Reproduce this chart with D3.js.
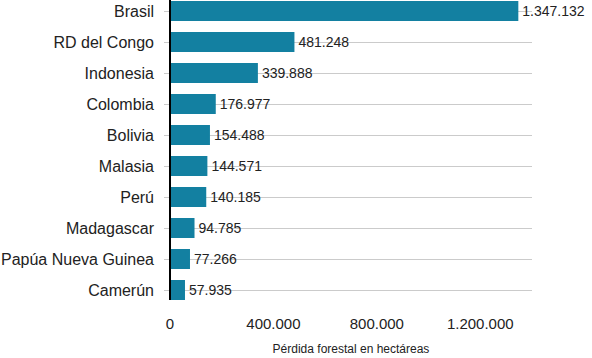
<!DOCTYPE html>
<html><head><meta charset="utf-8">
<script src="https://cdn.jsdelivr.net/npm/d3@7"></script>
<style>body{margin:0;background:#fff}svg{display:block}text{font-family:"Liberation Sans",Arial,sans-serif;fill:#222}</style>
</head><body><svg id="c" width="592" height="358"></svg>
<script>
const countries = ["Brasil","RD del Congo","Indonesia","Colombia","Bolivia","Malasia","Perú","Madagascar","Papúa Nueva Guinea","Camerún"];
const loss = [1347132,481248,339888,176977,154488,144571,140185,94785,77266,57935];
const xTicks = [0,400000,800000,1200000];
const xTitle = "Pérdida forestal en hectáreas";

const svg = d3.select("#c");
const fmt = v => d3.format(",")(v).replace(/,/g,".");
const x = d3.scaleLinear().domain([0,1400000]).range([170,532]);
const y = d3.scaleBand().domain(countries).range([1,300]).paddingInner(0.355).paddingOuter(0);
const data = countries.map((c,i)=>({c,v:loss[i]}));

// gridlines
svg.append("g").selectAll("line").data(countries).join("line")
  .attr("x1",164).attr("x2",532)
  .attr("y1",d=>y(d)+y.bandwidth()/2+0.5).attr("y2",d=>y(d)+y.bandwidth()/2+0.5)
  .attr("stroke","#cbcbcb").attr("stroke-width",1);

// category labels
svg.append("g").selectAll("text").data(countries).join("text")
  .attr("x",154).attr("y",d=>y(d)+y.bandwidth()/2)
  .attr("dy","0.35em").attr("text-anchor","end").style("font-size","16px").text(d=>d);

// bars
svg.append("g").selectAll("rect").data(data).join("rect")
  .attr("x",x(0)+1).attr("y",d=>y(d.c)).attr("width",d=>x(d.v)-x(0)-1).attr("height",y.bandwidth())
  .attr("fill","#1380A1");

// value labels
svg.append("g").selectAll("text").data(data).join("text")
  .attr("x",d=>x(d.v)+4).attr("y",d=>y(d.c)+y.bandwidth()/2)
  .attr("dy","0.35em").style("font-size","14px").text(d=>fmt(d.v));

// axis line
svg.append("line").attr("x1",170).attr("x2",170).attr("y1",0).attr("y2",300)
  .attr("stroke","#000").attr("stroke-width",2);

// x tick labels
svg.append("g").selectAll("text").data(xTicks).join("text")
  .attr("x",d=>x(d)).attr("y",329).attr("text-anchor","middle").style("font-size","15px").text(d=>fmt(d));

svg.append("text").attr("x",351).attr("y",353).attr("text-anchor","middle").style("font-size","12px").text(xTitle);
</script></body></html>
